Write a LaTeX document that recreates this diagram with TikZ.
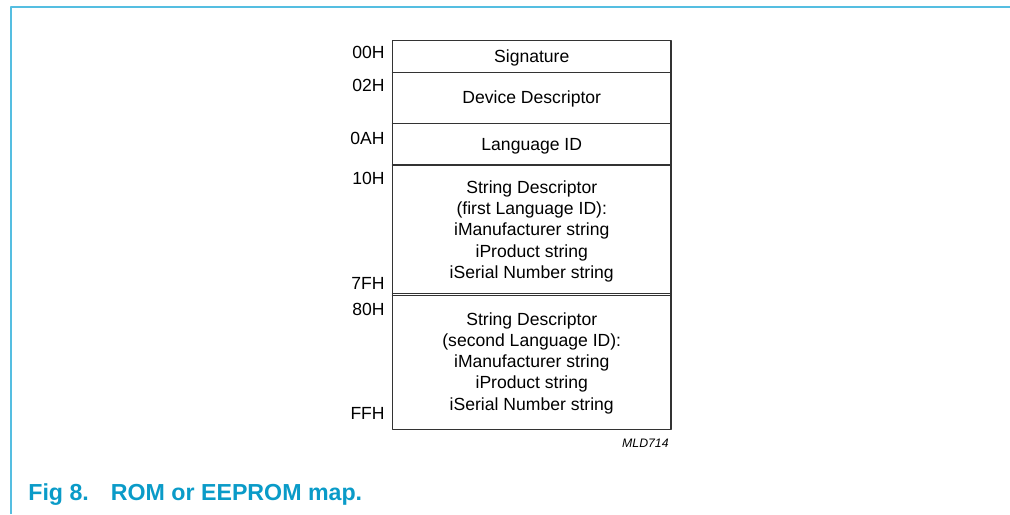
\documentclass[tikz,border=0pt]{standalone}
\usepackage{fontspec}
\setmainfont{Liberation Sans}
\definecolor{framecol}{RGB}{85,190,225}
\definecolor{capcol}{RGB}{10,155,200}
\tikzset{
	cellline/.style={draw=black!80, line width=0.8pt},
	cell/.style={anchor=base, inner sep=0pt, align=center, font=\fontsize{10}{12.05}\selectfont},
	addr/.style={anchor=base east, inner sep=0pt, font=\fontsize{10}{12}\selectfont},
	figcap/.style={anchor=base west, inner sep=0pt, text=capcol, font=\fontsize{13.2}{15}\selectfont\bfseries},
}
\begin{document}
\begin{tikzpicture}[x=0.02cm, y=-0.02cm, line join=round, line cap=round]
	\useasboundingbox (0,0) rectangle (1010,514);
	% page frame
	\draw[framecol, line width=1.1pt, line cap=butt] (11,514) |- (1010,7);
	% memory map
	\coordinate (TL) at (392.5,40.7);
	\coordinate (BR) at (671,429.3);
	\draw[cellline] (TL) rectangle (BR);
	\foreach \y in {72.7,123.7,165,293.3,295.7}
		\draw[cellline] (TL |- 0,\y) -- (BR |- 0,\y);
	\node[cell] (sig) at (531.75,62.3) {Signature};
	\node[cell] (dev) at (531.75,103.3) {Device Descriptor};
	\node[cell] (lang) at (531.75,150.7) {Language ID};
	% base of a multi-line node = last line
	\node[cell] (str1) at (531.75,278.3) {String Descriptor\\(first Language ID):\\iManufacturer string\\iProduct string\\iSerial Number string};
	\node[cell] (str2) at (531.75,410) {String Descriptor\\(second Language ID):\\iManufacturer string\\iProduct string\\iSerial Number string};
	% addresses
	\foreach \lab/\y in {00H/58.3, 02H/91, 0AH/144.3, 10H/184, 7FH/289.3, 80H/315, FFH/419.3}
		\node[addr] (a\lab) at (385,\y) {\lab};
	\node[anchor=base east, inner sep=0pt, font=\fontsize{7}{8}\selectfont\itshape] (mld) at (669,447) {MLD714};
	% caption
	\node[figcap] (cap) at (28,500) {Fig 8.\hspace{12.5pt}ROM or EEPROM map.};
\end{tikzpicture}
\end{document}
